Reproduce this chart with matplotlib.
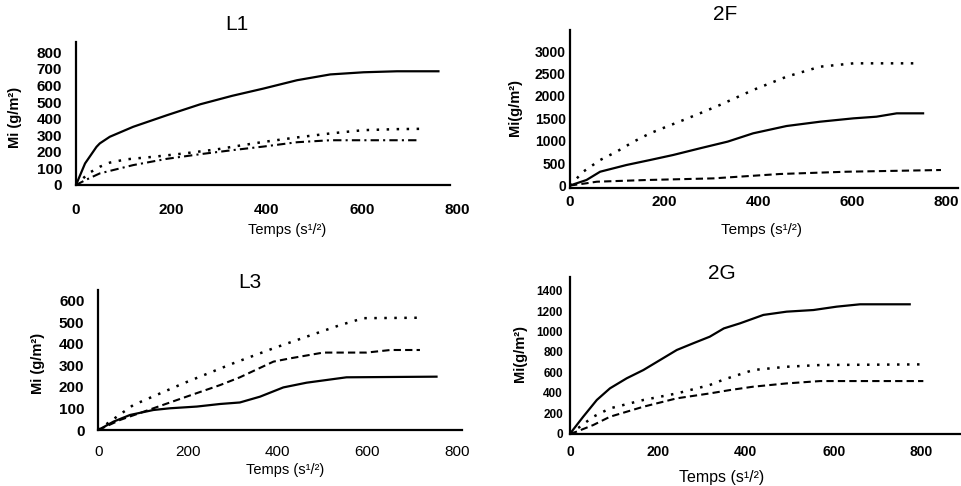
import matplotlib
matplotlib.use("Agg")
import matplotlib.pyplot as plt

plt.rcParams['font.family'] = ['Liberation Sans', 'DejaVu Sans']

# ---------------- data ----------------
titles = ["L1", "2F", "L3", "2G"]
xlabel_text = "Temps (s\u00b9/\u00b2)"
ylabels = ["Mi (g/m\u00b2)", "Mi(g/m\u00b2)", "Mi (g/m\u00b2)", "Mi(g/m\u00b2)"]
xticks = [0, 200, 400, 600, 800]
yticks_l1 = [0, 100, 200, 300, 400, 500, 600, 700, 800]
yticks_2f = [0, 500, 1000, 1500, 2000, 2500, 3000]
yticks_l3 = [0, 100, 200, 300, 400, 500, 600]
yticks_2g = [0, 200, 400, 600, 800, 1000, 1200, 1400]

# L1
l1_solid_t = [0, 19, 43, 50, 71, 120, 191, 261, 328, 394, 464, 534, 604, 674, 761]
l1_solid_y = [0, 130, 230, 251, 291, 351, 421, 487, 538, 582, 632, 667, 680, 686, 686]
l1_dot_t = [0, 26, 50, 71, 106, 162, 226, 296, 338, 394, 464, 534, 604, 674, 730]
l1_dot_y = [0, 70, 110, 135, 155, 170, 190, 215, 235, 260, 287, 311, 331, 337, 339]
l1_dash_t = [0, 20, 50, 120, 191, 261, 328, 394, 464, 534, 719]
l1_dash_y = [0, 30, 70, 120, 158, 186, 210, 232, 258, 270, 270]

# 2F
f2_dot_t = [0, 28, 64, 99, 135, 170, 205, 241, 276, 319, 389, 460, 531, 602, 736]
f2_dot_y = [0, 308, 569, 755, 978, 1165, 1313, 1462, 1611, 1800, 2132, 2429, 2652, 2727, 2727]
f2_solid_t = [0, 35, 64, 120, 170, 219, 276, 335, 389, 460, 531, 602, 651, 694, 750]
f2_solid_y = [0, 123, 308, 458, 569, 681, 830, 980, 1165, 1328, 1424, 1499, 1536, 1611, 1611]
f2_dash_t = [0, 35, 57, 163, 304, 446, 588, 788]
f2_dash_y = [0, 50, 85, 123, 159, 257, 308, 346]

# L3
l3_dot_t = [0, 30, 78, 190, 301, 391, 465, 540, 592, 718]
l3_dot_y = [0, 45, 116, 217, 310, 380, 434, 488, 520, 522]
l3_dash_t = [0, 49, 123, 197, 272, 316, 391, 428, 502, 599, 652, 718]
l3_dash_y = [0, 47, 101, 155, 209, 245, 318, 333, 360, 360, 372, 372]
l3_solid_t = [0, 34, 71, 123, 160, 220, 272, 316, 361, 413, 465, 554, 755]
l3_solid_y = [0, 39, 70, 93, 101, 109, 121, 128, 155, 198, 220, 245, 248]

# 2G
g2_solid_t = [0, 30, 61, 91, 129, 167, 205, 243, 280, 318, 350, 387, 440, 493, 554, 607, 660, 773]
g2_solid_y = [0, 166, 330, 444, 542, 623, 721, 819, 884, 949, 1030, 1080, 1162, 1194, 1210, 1243, 1266, 1266]
g2_dot_t = [0, 20, 53, 91, 167, 243, 318, 350, 417, 493, 569, 796]
g2_dot_y = [0, 60, 166, 248, 330, 394, 476, 530, 623, 655, 672, 678]
g2_dash_t = [0, 15, 53, 91, 167, 243, 318, 364, 417, 493, 569, 804]
g2_dash_y = [0, 20, 85, 166, 264, 346, 394, 427, 460, 492, 515, 515]

# ---------------- figure ----------------
W, H = 962, 486
fig = plt.figure(figsize=(W / 100, H / 100), dpi=100)

SOLID = dict(color='black', lw=1.6, linestyle='-', solid_joinstyle='round')
DOT = dict(color='black', lw=1.8, linestyle=(0, (1, 3)))
DASH = dict(color='black', lw=1.5, linestyle=(0, (3.5, 2)))
DASHDOT = dict(color='black', lw=1.5, linestyle=(0, (4, 2, 1, 2)))


def px_rect(left, right, bottom, top):
    return [left / W, 1 - bottom / H, (right - left) / W, (bottom - top) / H]


def style_axes(ax, xlim, xbound, ylim, yticks, ypad, xpad, yfs, xfs, xbold=True):
    ax.set_xlim(*xlim)
    ax.set_ylim(*ylim)
    ax.set_xticks(xticks)
    ax.set_yticks(yticks)
    for s in ['top', 'right']:
        ax.spines[s].set_visible(False)
    for s in ['left', 'bottom']:
        ax.spines[s].set_linewidth(1.6)
        ax.spines[s].set_color('black')
    ax.spines['bottom'].set_bounds(ylim[0] * 0 + 0, xbound)
    ax.tick_params(axis='both', length=0)
    ax.tick_params(axis='y', pad=ypad, labelsize=yfs)
    ax.tick_params(axis='x', pad=xpad, labelsize=xfs)
    for lab in ax.get_yticklabels():
        lab.set_fontweight('bold')
    if xbold:
        for lab in ax.get_xticklabels():
            lab.set_fontweight('bold')
    ax.set_facecolor('none')


# L1
ax1 = fig.add_axes(px_rect(76, 457, 185, 41.6))
ax1.plot(l1_solid_t, l1_solid_y, **SOLID)
ax1.plot(l1_dot_t, l1_dot_y, **DOT)
ax1.plot(l1_dash_t, l1_dash_y, **DASHDOT)
style_axes(ax1, (0, 800), 785, (0, 865), yticks_l1, 10, 13, 11, 11)

# 2F
ax2 = fig.add_axes(px_rect(570, 958.4, 188.2, 30))
ax2.plot(f2_dot_t, f2_dot_y, **DOT)
ax2.plot(f2_solid_t, f2_solid_y, **SOLID)
ax2.plot(f2_dash_t, f2_dash_y, **DASH)
style_axes(ax2, (0, 825), 825, (-60, 3471), yticks_2f, 3, 5, 10, 11)

# L3
ax3 = fig.add_axes(px_rect(98.3, 461.6, 430, 290))
ax3.plot(l3_dot_t, l3_dot_y, **DOT)
ax3.plot(l3_dash_t, l3_dash_y, **DASH)
ax3.plot(l3_solid_t, l3_solid_y, **SOLID)
style_axes(ax3, (0, 811), 811, (0, 651), yticks_l3, 10, 11, 11, 11, xbold=False)

# 2G
ax4 = fig.add_axes(px_rect(570, 962, 433.7, 276.7))
ax4.plot(g2_solid_t, g2_solid_y, **SOLID)
ax4.plot(g2_dot_t, g2_dot_y, **DOT)
ax4.plot(g2_dash_t, g2_dash_y, **DASH)
style_axes(ax4, (0, 892), 892, (0, 1536), yticks_2g, 5, 8, 8.5, 10)

# titles
title_pos = [(237, 24), (725, 15), (250, 283), (722, 273)]
for t, (x, y) in zip(titles, title_pos):
    fig.text(x / W, 1 - y / H, t, ha='center', va='center', fontsize=15)

# x labels
xl_pos = [(287, 230, 10.5), (762, 230, 11), (285, 470, 10.5), (722, 477, 11.5)]
for (x, y, fs) in xl_pos:
    fig.text(x / W, 1 - y / H, xlabel_text, ha='center', va='center', fontsize=fs)

# y labels
yl_pos = [(15, 117), (515, 107), (38, 363), (520, 353)]
for lab, (x, y) in zip(ylabels, yl_pos):
    fig.text(x / W, 1 - y / H, lab, ha='center', va='center', rotation=90,
             fontsize=10.5, fontweight='bold')

fig.savefig("out.png", dpi=100)
